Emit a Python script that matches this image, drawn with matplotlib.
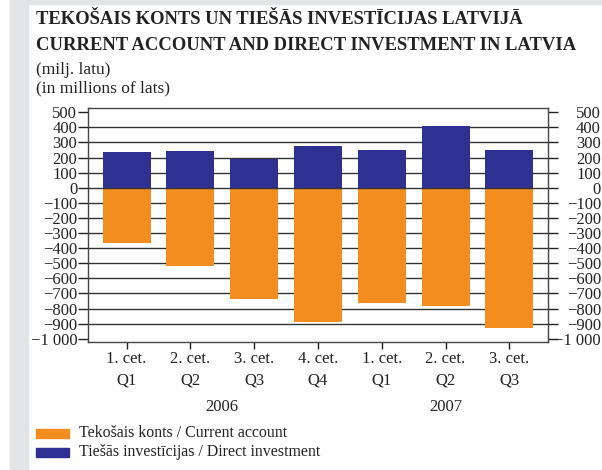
import matplotlib
matplotlib.use("Agg")
import matplotlib.pyplot as plt
from matplotlib.patches import Rectangle
from matplotlib.transforms import blended_transform_factory

plt.rcParams['font.family'] = ['Liberation Serif', 'DejaVu Serif']

quarters = ["1. cet.\nQ1", "2. cet.\nQ2", "3. cet.\nQ3", "4. cet.\nQ4",
            "1. cet.\nQ1", "2. cet.\nQ2", "3. cet.\nQ3"]
years = ["2006", "2007"]
year_pos = [1.5, 5]
current_account = [-364, -516, -735, -887, -762, -781, -927]
direct_investment = [236, 243, 190, 276, 250, 408, 250]
yticks = list(range(-1000, 501, 100))

orange = "#F48D1F"
blue = "#2E3192"
gray_bg = "#E3E4E6"
txt = "#222222"

fig = plt.figure(figsize=(6.02, 4.70), dpi=100)

# gray frame strips
fig.patches.append(Rectangle((10/602, 0), 18/602, 1, transform=fig.transFigure,
                             color=gray_bg, zorder=0))
fig.patches.append(Rectangle((10/602, 1 - 4/470), 592/602, 4/470, transform=fig.transFigure,
                             color=gray_bg, zorder=0))

fig.text(36/602, 1 - 20/470, "TEKOŠAIS KONTS UN TIEŠĀS INVESTĪCIJAS LATVIJĀ",
         fontsize=13.4, fontweight="bold", va="center", color=txt)
fig.text(36/602, 1 - 45/470, "CURRENT ACCOUNT AND DIRECT INVESTMENT IN LATVIA",
         fontsize=13.4, fontweight="bold", va="center", color=txt)
fig.text(36/602, 1 - 70/470, "(milj. latu)", fontsize=12.5, va="center", color=txt)
fig.text(36/602, 1 - 88/470, "(in millions of lats)", fontsize=12.5, va="center", color=txt)

ax = fig.add_axes([88.3/602, 1 - 341.5/470, 459.4/602, 233.2/470])
x = range(len(quarters))
ax.bar(x, current_account, width=0.75, color=orange, zorder=2)
ax.bar(x, direct_investment, width=0.75, color=blue, zorder=2)

for v in yticks[1:-1]:
    ax.axhline(v, color="#333333", lw=1.0, zorder=3 if v == 0 else 1)

ax.set_xlim(-0.6, 6.6)
ax.set_ylim(-1018, 526)

labels = [("\u2212" + format(-v, ",").replace(",", " ")) if v < 0 else str(v) for v in yticks]
ax.set_yticks(yticks)
ax.set_yticklabels(labels)
ax.tick_params(axis="y", direction="out", length=7, width=1, labelsize=12, pad=1,
               left=True, right=True, labelleft=True, labelright=True, colors=txt)
# right labels are right-aligned at the figure edge
for t in ax.yaxis.get_major_ticks():
    t.label2.set_horizontalalignment("right")
    t.label2.set_transform(blended_transform_factory(fig.transFigure, ax.transData))
    t.label2.set_position((601/602, t.get_loc()))

ax.set_xticks(list(x))
ax.set_xticklabels(quarters, fontsize=12, linespacing=1.45, color=txt)
ax.tick_params(axis="x", direction="out", length=5, width=1, pad=2, colors=txt)

for s in ax.spines.values():
    s.set_color("#444444")
    s.set_linewidth(1.0)

for yr, p in zip(years, year_pos):
    ax.text(p, -0.281, yr, transform=blended_transform_factory(ax.transData, ax.transAxes),
            ha="center", va="center", fontsize=12, color=txt)

# legend
for i, (lab, col) in enumerate([("Tekošais konts / Current account", orange),
                                ("Tiešās investīcijas / Direct investment", blue)]):
    yc = 1 - (433 + 19 * i) / 470
    fig.patches.append(Rectangle((36/602, yc - 4.5/470), 33/602, 9/470,
                                 transform=fig.transFigure, color=col))
    fig.text(79/602, yc, lab, fontsize=11.4, va="center", color=txt)

fig.savefig("out.png", dpi=100)
